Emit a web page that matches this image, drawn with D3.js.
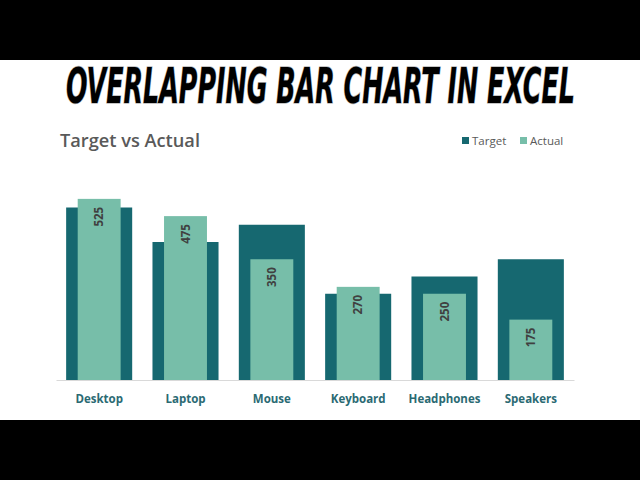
<!DOCTYPE html>
<html>
<head>
<meta charset="utf-8">
<script src="https://cdn.jsdelivr.net/npm/d3@7"></script>
<style>
  body { margin: 0; background: #000; }
  svg { display: block; }
</style>
</head>
<body>
<div id="chart-area"></div>
<script>
// chart values
var categories = ["Desktop", "Laptop", "Mouse", "Keyboard", "Headphones", "Speakers"]
var targetValues = [500, 400, 450, 250, 300, 350]
var actualValues = [525, 475, 350, 270, 250, 175]
var seriesNames = ["Target", "Actual"]

var svgWidth = 640
var svgHeight = 480

var svg = d3.select("#chart-area")
	.append("svg")
	.attr("width", svgWidth)
	.attr("height", svgHeight)

// black frame strips top and bottom
svg.append("rect").attr("x", 0).attr("y", 0).attr("width", svgWidth).attr("height", svgHeight).attr("fill", "#000")
svg.append("rect").attr("x", 0).attr("y", 60).attr("width", svgWidth).attr("height", 360).attr("fill", "#fff")

// big banner title, squeezed horizontally to fit the span of the original
var banner = svg.append("text")
	.attr("x", 0).attr("y", 0)
	.attr("font-family", "'DejaVu Sans Condensed', 'DejaVu Sans', sans-serif")
	.attr("font-weight", "bold")
	.attr("font-style", "italic")
	.attr("font-size", 49)
	.attr("fill", "#000")
	.attr("stroke", "#bbb")
	.attr("stroke-width", 1.5)
	.attr("paint-order", "stroke")
	.text("OVERLAPPING BAR CHART IN EXCEL")
var bw = banner.node().getComputedTextLength()
banner.attr("transform", "translate(66,103) scale(" + (509 / bw) + ",1)")

// chart title
svg.append("text")
	.attr("x", 60).attr("y", 147)
	.attr("font-family", "'Open Sans', sans-serif")
	.attr("font-size", 18)
	.attr("font-weight", 600)
	.attr("textLength", 140)
	.attr("lengthAdjust", "spacingAndGlyphs")
	.attr("fill", "#595959")
	.text("Target vs Actual")

var colr = d3.scaleOrdinal()
	.domain(seriesNames)
	.range(["#166870", "#77bea9"])

// legend
var legendX = d3.scalePoint().domain(seriesNames).range([462, 520])
var legend = svg.selectAll(".legend").data(seriesNames).enter()
	.append("g")
	.attr("class", "legend")
	.attr("transform", function(d){ return "translate(" + legendX(d) + ",0)" })
legend.append("rect")
	.attr("x", 0).attr("y", 137)
	.attr("width", 7).attr("height", 7)
	.attr("fill", function(d){ return colr(d) })
legend.append("text")
	.attr("x", 10).attr("y", 145)
	.attr("font-family", "'Open Sans', sans-serif")
	.attr("font-size", 11.5)
	.attr("fill", "#595959")
	.text(function(d){ return d })

var x = d3.scaleBand()
	.domain(categories)
	.range([56, 574])
	.paddingInner(0.235)
	.paddingOuter(0.1175)

var y = d3.scaleLinear()
	.domain([0, 600])
	.range([380, 173])

var data = categories.map(function(c, i){
	return { cat: c, target: targetValues[i], actual: actualValues[i] }
})

var actualW = x.bandwidth() * 0.65
var inset = (x.bandwidth() - actualW) / 2

// target bars (wide, behind)
svg.selectAll(".target").data(data).enter()
	.append("rect")
	.attr("class", "target")
	.attr("x", function(d){ return x(d.cat) })
	.attr("y", function(d){ return y(d.target) })
	.attr("width", x.bandwidth())
	.attr("height", function(d){ return y(0) - y(d.target) })
	.attr("fill", colr("Target"))

// actual bars (narrow, in front)
svg.selectAll(".actual").data(data).enter()
	.append("rect")
	.attr("class", "actual")
	.attr("x", function(d){ return x(d.cat) + inset })
	.attr("y", function(d){ return y(d.actual) })
	.attr("width", actualW)
	.attr("height", function(d){ return y(0) - y(d.actual) })
	.attr("fill", colr("Actual"))

// value labels, rotated, inside end
svg.selectAll(".val").data(data).enter()
	.append("text")
	.attr("class", "val")
	.attr("transform", function(d){
		return "translate(" + (x(d.cat) + x.bandwidth() / 2 + 4) + "," + (y(d.actual) + 8) + ") rotate(-90)"
	})
	.attr("text-anchor", "end")
	.attr("font-family", "'Open Sans', sans-serif")
	.attr("font-weight", "bold")
	.attr("font-size", 11.5)
	.attr("fill", "#404040")
	.text(function(d){ return d.actual })

// axis baseline
var xAxis = d3.axisBottom(x).tickSize(0).tickPadding(15)
var axisG = svg.append("g")
	.attr("transform", "translate(0," + y(0) + ")")
	.call(xAxis)
axisG.select(".domain").attr("stroke", "#d9d9d9").attr("stroke-width", 1)
axisG.selectAll("text")
	.attr("font-family", "'Open Sans', sans-serif")
	.attr("font-weight", "bold")
	.attr("font-size", 11.5)
	.attr("fill", "#2b6a73")
</script>
</body>
</html>
